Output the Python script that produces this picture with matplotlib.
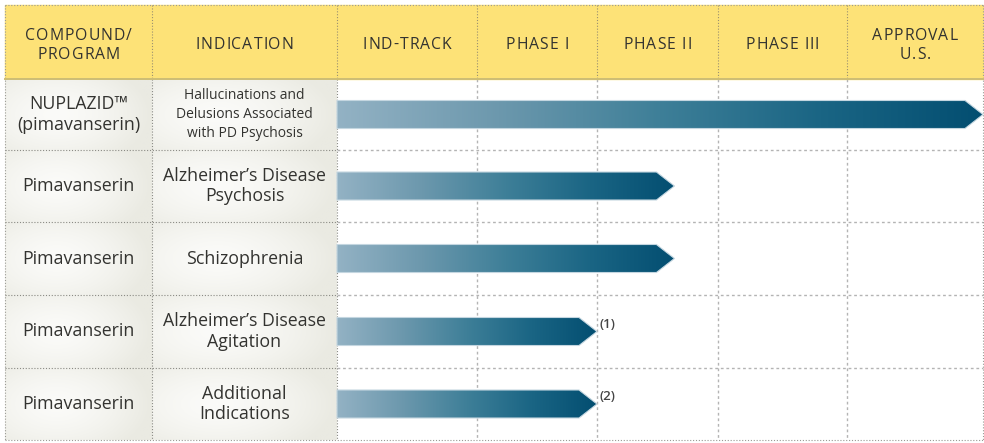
"""Pipeline chart: compound / indication rows with phase-progress arrows."""

import matplotlib

matplotlib.use("Agg")
import matplotlib.pyplot as plt
import numpy as np
from matplotlib.colors import LinearSegmentedColormap
from matplotlib.font_manager import FontProperties
from matplotlib.patches import Polygon, Rectangle

plt.rcParams["font.family"] = ["Open Sans", "DejaVu Sans"]

# ---- data -------------------------------------------------------------
headers = ["COMPOUND/\nPROGRAM", "INDICATION", "IND-TRACK", "PHASE I",
           "PHASE II", "PHASE III", "APPROVAL\nU.S."]
compounds = ["NUPLAZID™\n(pimavanserin)", "Pimavanserin", "Pimavanserin",
             "Pimavanserin", "Pimavanserin"]
indications = ["Hallucinations and\nDelusions Associated\nwith PD Psychosis",
               "Alzheimer’s Disease\nPsychosis", "Schizophrenia",
               "Alzheimer’s Disease\nAgitation", "Additional\nIndications"]
# progress measured in phase columns completed (0 = start of IND-TRACK)
progress = [5.0, 2.64, 2.64, 2.0, 2.0]
notes = ["", "", "", "(1)", "(2)"]

# ---- layout (pixels) --------------------------------------------------
W, H = 984, 443
col_edges = [5, 152, 337, 477, 597, 718, 847, 983]
row_edges = [5, 79, 150, 222, 295, 368, 440]
bar_h = 28
tip = 18

YELLOW = "#fde277"
TXT = "#333330"

fig = plt.figure(figsize=(W / 100, H / 100), dpi=100)
ax = fig.add_axes([0, 0, 1, 1])
ax.set_xlim(0, W)
ax.set_ylim(H, 0)
ax.axis("off")
renderer = fig.canvas.get_renderer()


def tracked_text(xc, yc, s, size, track, line_h, color):
    """Centered text with extra letter spacing (px), line by line."""
    fp = FontProperties(family=["Open Sans", "DejaVu Sans"], size=size)
    lines = s.split("\n")
    y_top = yc - line_h * (len(lines) - 1) / 2
    for k, line in enumerate(lines):
        widths = [renderer.get_text_width_height_descent(line[:i], fp, ismath=False)[0]
                  if i else 0.0 for i in range(len(line) + 1)]
        total = widths[-1] + track * (len(line) - 1)
        x0 = xc - total / 2
        for i, ch in enumerate(line):
            ax.text(x0 + widths[i] + track * i, y_top + k * line_h, ch,
                    fontproperties=fp, ha="left", va="center_baseline",
                    color=color, zorder=5)


# header band
ax.add_patch(Rectangle((col_edges[0], row_edges[0]), col_edges[-1] - col_edges[0],
                       row_edges[1] - row_edges[0], color=YELLOW, zorder=1))
for i, lab in enumerate(headers):
    xc = (col_edges[i] + col_edges[i + 1]) / 2
    yc = (row_edges[0] + row_edges[1]) / 2 + 1
    tracked_text(xc, yc, lab, 11.3, 1.0, 19, TXT)

# shaded left cells (soft off-centre glow)
cell_cmap = LinearSegmentedColormap.from_list("cell", ["#fbfbf9", "#f3f3ee", "#eaeae2"])
gx, gy = np.meshgrid(np.linspace(-1, 1, 80), np.linspace(-1, 1, 40))
vign = np.clip(np.sqrt(((gx + 0.3) / 1.3) ** 2 + (gy / 1.6) ** 2), 0, 1) ** 1.4
for r in range(len(compounds)):
    for c in range(2):
        ax.imshow(vign, cmap=cell_cmap, aspect="auto", interpolation="bilinear",
                  extent=(col_edges[c], col_edges[c + 1], row_edges[r + 2], row_edges[r + 1]),
                  zorder=1)
ax.set_xlim(0, W)
ax.set_ylim(H, 0)

# grid lines
phase_x0 = col_edges[2]
for y in row_edges[2:-1]:
    ax.plot([col_edges[0], phase_x0], [y, y], color="#8a8a84", lw=0.8,
            dashes=(1, 1.6), zorder=3)
    ax.plot([phase_x0, col_edges[-1]], [y, y], color="#b4b4b4", lw=1.0,
            dashes=(2, 2), zorder=3)
for x in col_edges[1:-1]:
    ax.plot([x, x], [row_edges[0], row_edges[1]], color="#9a9070", lw=0.8,
            dashes=(1, 1.6), zorder=3)
    if x <= phase_x0:
        ax.plot([x, x], [row_edges[1], row_edges[-1]], color="#8a8a84", lw=0.8,
                dashes=(1, 1.6), zorder=3)
    else:
        ax.plot([x, x], [row_edges[1], row_edges[-1]], color="#b4b4b4", lw=1.0,
                dashes=(2, 2), zorder=3)
# outer border
for xs, ys in [([col_edges[0], col_edges[-1]], [row_edges[0]] * 2),
               ([col_edges[0], col_edges[-1]], [row_edges[-1]] * 2),
               ([col_edges[0]] * 2, [row_edges[0], row_edges[-1]]),
               ([col_edges[-1]] * 2, [row_edges[0], row_edges[-1]])]:
    ax.plot(xs, ys, color="#9a9a94", lw=0.8, dashes=(1, 1.6), zorder=3)
ax.plot([col_edges[0], col_edges[-1]], [row_edges[1]] * 2, color="#cdbd74",
        lw=1.4, zorder=4)

# row labels
for r in range(len(compounds)):
    yc = (row_edges[r + 1] + row_edges[r + 2]) / 2
    ax.text((col_edges[0] + col_edges[1]) / 2, yc, compounds[r], ha="center",
            va="center", fontsize=12.8, color=TXT, linespacing=1.2, zorder=5)
    small = indications[r].count("\n") >= 2
    ax.text((col_edges[1] + col_edges[2]) / 2, yc, indications[r], ha="center",
            va="center", fontsize=10 if small else 12.8, color=TXT,
            linespacing=1.4 if small else 1.2, zorder=5)

# progress arrows
bar_cmap = LinearSegmentedColormap.from_list(
    "bar", ["#93b2c4", "#6c98ad", "#3e7f98", "#1a6584", "#034e71"])
grad = np.linspace(0, 1, 256).reshape(1, -1)
phase_edges = col_edges[2:]
for r, p in enumerate(progress):
    x_end = np.interp(p, np.arange(len(phase_edges)), phase_edges)
    yc = (row_edges[r + 1] + row_edges[r + 2]) / 2
    y0, y1 = yc - bar_h / 2, yc + bar_h / 2
    verts = [(phase_x0, y0), (x_end - tip, y0), (x_end, yc), (x_end - tip, y1), (phase_x0, y1)]
    poly = Polygon(verts, closed=True, facecolor="none", edgecolor="#c4d6e0",
                   lw=0.8, zorder=6)
    ax.add_patch(poly)
    im = ax.imshow(grad, cmap=bar_cmap, aspect="auto", interpolation="bilinear",
                   extent=(phase_x0, x_end, y1, y0), zorder=5)
    im.set_clip_path(poly)
    if notes[r]:
        ax.text(x_end + 3, yc - 7, notes[r], ha="left", va="center", fontsize=9.5,
                color="#444444", fontweight="semibold", zorder=7)

ax.set_xlim(0, W)
ax.set_ylim(H, 0)
fig.savefig("out.png", dpi=100, facecolor="white")
